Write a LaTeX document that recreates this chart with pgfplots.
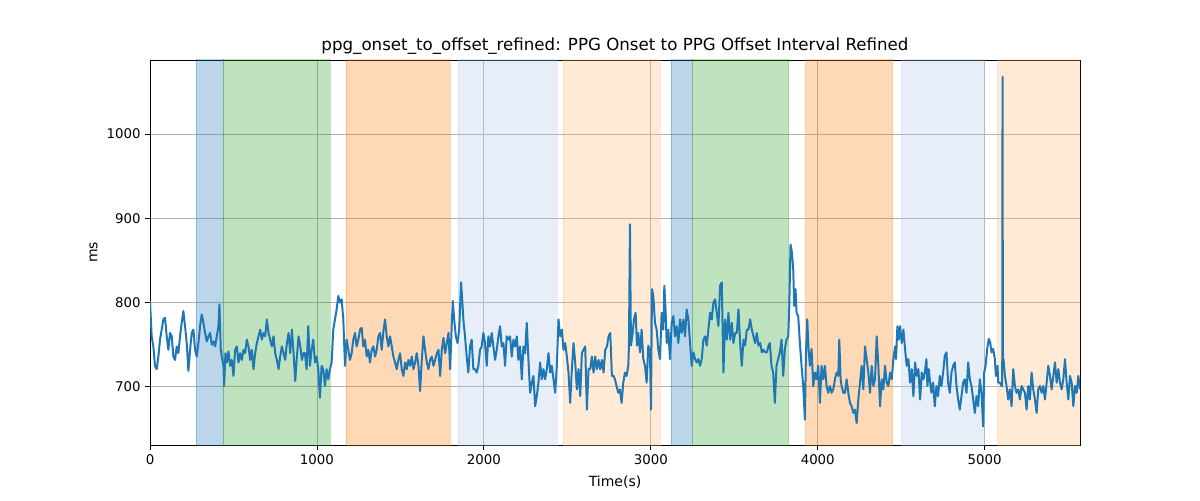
\documentclass[border=0pt]{standalone}
\usepackage{pgfplots}
\pgfplotsset{compat=1.18}
\usepackage{fontspec}
\setmainfont{DejaVu Sans}
\definecolor{mplblue}{HTML}{1F77B4}
\definecolor{mplgreen}{HTML}{2CA02C}
\definecolor{mplorange}{HTML}{FF7F0E}
\definecolor{mpllblue}{HTML}{AEC7E8}
\definecolor{mpllorange}{HTML}{FFBB78}
\begin{document}
\begin{tikzpicture}
\begin{axis}[
  scale only axis,
  width=697.5pt, height=288.75pt,
  xmin=0, xmax=5571, ymin=631, ymax=1088,
  xtick={0,1000,2000,3000,4000,5000},
  ytick={700,800,900,1000},
  grid=major,
  grid style={color=black!30, line width=0.6pt},
  tick align=outside,
  tick pos=left,
  major tick length=3.5pt,
  tick style={black, line width=0.6pt},
  axis line style={black, line width=0.6pt},
  ticklabel style={font=\fontsize{10}{12}\selectfont},
  /pgf/number format/assume math mode=true,
  /pgf/number format/set thousands separator={},
  title={ppg\_onset\_to\_offset\_refined: PPG Onset to PPG Offset Interval Refined},
  title style={font=\fontsize{12.5}{14}\selectfont, yshift=-5.5pt},
  xlabel={Time(s)}, ylabel={ms},
  label style={font=\fontsize{10.5}{12}\selectfont},
  xlabel style={yshift=-1.5pt},
  ylabel style={yshift=0pt},
]
\addplot[fill=mplblue, fill opacity=0.3, draw=mplblue, draw opacity=0.3] coordinates {(275,600) (275,1100) (437,1100) (437,600)} \closedcycle;
\addplot[fill=mplgreen, fill opacity=0.3, draw=mplgreen, draw opacity=0.3] coordinates {(437,600) (437,1100) (1078,1100) (1078,600)} \closedcycle;
\addplot[fill=mplorange, fill opacity=0.3, draw=mplorange, draw opacity=0.3] coordinates {(1174,600) (1174,1100) (1796,1100) (1796,600)} \closedcycle;
\addplot[fill=mpllblue, fill opacity=0.3, draw=mpllblue, draw opacity=0.3] coordinates {(1844,600) (1844,1100) (2437,1100) (2437,600)} \closedcycle;
\addplot[fill=mpllorange, fill opacity=0.3, draw=mpllorange, draw opacity=0.3] coordinates {(2473,600) (2473,1100) (3054,1100) (3054,600)} \closedcycle;
\addplot[fill=mplblue, fill opacity=0.3, draw=mplblue, draw opacity=0.3] coordinates {(3120,600) (3120,1100) (3251,1100) (3251,600)} \closedcycle;
\addplot[fill=mplgreen, fill opacity=0.3, draw=mplgreen, draw opacity=0.3] coordinates {(3251,600) (3251,1100) (3826,1100) (3826,600)} \closedcycle;
\addplot[fill=mplorange, fill opacity=0.3, draw=mplorange, draw opacity=0.3] coordinates {(3928,600) (3928,1100) (4449,1100) (4449,600)} \closedcycle;
\addplot[fill=mpllblue, fill opacity=0.3, draw=mpllblue, draw opacity=0.3] coordinates {(4503,600) (4503,1100) (5000,1100) (5000,600)} \closedcycle;
\addplot[fill=mpllorange, fill opacity=0.3, draw=mpllorange, draw opacity=0.3] coordinates {(5078,600) (5078,1100) (5580,1100) (5580,600)} \closedcycle;
\addplot[color=mplblue, line width=1.5pt, line join=round, mark=none] coordinates {
(0,802) (10,760) (20,748) (30,725) (40,721) (50,736) (60,756) (70,768) (80,780) (90,782) (100,760) (110,744) (120,764) (130,760) (140,736) (150,732) (160,748) (170,740) (180,760) (190,776) (200,790) (210,772) (220,752) (230,719) (240,744) (250,764) (260,768) (270,744) (280,736) (290,752) (300,772) (310,786) (320,776) (330,764) (340,754) (350,760) (360,764) (370,750) (380,754) (390,748) (400,760) (410,772) (416,798) (424,744) (430,736) (440,725) (444,701) (452,740) (460,729) (470,742) (480,725) (490,732) (500,713) (510,744) (520,748) (530,729) (540,740) (550,732) (560,744) (570,740) (580,756) (590,748) (600,732) (610,744) (620,721) (630,740) (640,752) (650,760) (660,768) (670,756) (680,764) (690,760) (700,780) (710,764) (720,756) (730,748) (740,760) (750,740) (760,732) (770,721) (780,736) (790,748) (800,740) (810,732) (820,752) (830,764) (840,740) (850,768) (860,740) (870,707) (880,736) (890,760) (900,748) (910,732) (920,740)
(928,740) (938,721) (948,772) (958,725) (968,744) (978,756) (988,729) (998,736) (1008,721) (1018,687) (1028,725) (1038,721) (1048,701) (1058,721) (1068,709) (1078,721) (1088,729) (1098,768) (1108,780) (1118,792) (1128,808) (1138,800) (1148,804) (1158,780) (1168,725) (1178,756) (1188,744) (1198,732) (1208,740) (1218,756) (1228,764) (1238,748) (1248,756) (1258,768) (1268,770) (1278,748) (1288,756) (1298,736) (1308,744) (1318,729) (1328,744) (1338,748) (1348,736) (1358,744) (1368,760) (1378,764) (1388,744) (1398,766) (1408,780) (1418,760) (1428,748) (1438,760) (1448,748) (1458,736) (1468,729) (1478,721) (1488,732) (1498,740) (1508,721) (1518,713) (1528,729) (1538,721) (1548,732) (1558,725) (1568,736) (1578,721) (1588,729) (1598,740) (1608,725) (1618,695) (1628,732) (1638,760) (1648,744) (1658,729) (1668,721) (1678,732) (1688,736) (1698,725) (1708,732) (1718,740) (1728,744) (1738,713) (1748,744) (1758,758) (1768,740) (1778,752) (1788,764) (1798,721) (1808,776) (1814,802) (1822,780) (1832,760) (1842,752) (1852,768)
(1857,792) (1863,824) (1869,808) (1877,780) (1887,760) (1897,736) (1907,717) (1917,748) (1927,756) (1937,721) (1947,721) (1957,717) (1967,725) (1977,744) (1987,748) (1997,764) (2007,752) (2017,725) (2027,760) (2037,748) (2047,764) (2057,748) (2067,732) (2077,744) (2087,760) (2097,772) (2107,748) (2117,752) (2127,725) (2137,760) (2147,756) (2157,760) (2167,736) (2177,756) (2187,748) (2197,760) (2207,732) (2217,748) (2227,709) (2237,748) (2247,740) (2257,776) (2267,732) (2277,693) (2287,705) (2297,713) (2307,677) (2317,689) (2327,705) (2337,729) (2347,709) (2357,721) (2367,709) (2377,721) (2387,740) (2397,717) (2407,725) (2417,709) (2427,693) (2437,725) (2447,780) (2457,760) (2467,768) (2477,744) (2487,752) (2497,736) (2507,717) (2517,681) (2527,721) (2537,752) (2547,729) (2557,697) (2567,721) (2577,689) (2587,740) (2597,744) (2607,748) (2617,673) (2627,721) (2637,721) (2647,736) (2657,717) (2667,736) (2677,721) (2687,732) (2697,721) (2707,732) (2717,717) (2727,744) (2737,748) (2747,760) (2757,764) (2767,713) (2777,713)
(2785,709) (2795,701) (2805,693) (2815,697) (2825,681) (2835,705) (2845,717) (2855,713) (2865,725) (2869,749) (2875,893) (2881,749) (2889,760) (2899,780) (2909,788) (2917,749) (2925,764) (2935,741) (2945,768) (2955,733) (2965,725) (2975,705) (2985,749) (2995,741) (3001,673) (3007,816) (3015,808) (3025,776) (3035,768) (3045,744) (3055,733) (3065,788) (3075,768) (3081,820) (3089,788) (3095,752) (3105,768) (3115,733) (3125,776) (3135,784) (3145,760) (3155,772) (3165,752) (3175,780) (3185,764) (3195,780) (3205,760) (3215,792) (3225,780) (3235,752) (3245,725) (3255,741) (3265,733) (3275,729) (3285,733) (3295,725) (3305,733) (3315,756) (3325,760) (3335,749) (3345,768) (3355,788) (3365,780) (3375,800) (3385,804) (3395,788) (3405,772) (3415,820) (3425,824) (3435,717) (3445,780) (3455,756) (3465,788) (3475,756) (3485,776) (3495,752) (3505,764) (3515,764) (3525,792) (3535,752) (3545,725) (3555,756) (3565,749) (3575,768) (3585,768) (3595,780) (3605,768) (3615,760) (3625,752) (3635,764) (3645,749) (3655,752) (3665,741) (3675,744) (3685,741) (3695,741) (3705,749)
(3713,752) (3723,725) (3733,717) (3743,681) (3753,725) (3763,733) (3773,741) (3783,756) (3793,713) (3803,745) (3813,756) (3823,760) (3829,792) (3837,869) (3845,860) (3853,840) (3859,796) (3867,816) (3873,788) (3883,784) (3893,752) (3903,725) (3913,701) (3923,661) (3929,737) (3937,780) (3945,745) (3953,725) (3963,745) (3973,701) (3983,717) (3993,709) (4003,725) (4013,681) (4023,725) (4033,709) (4043,725) (4053,701) (4063,693) (4073,701) (4083,693) (4093,697) (4103,709) (4113,717) (4123,713) (4129,756) (4137,709) (4143,701) (4153,693) (4163,693) (4173,709) (4183,693) (4193,681) (4203,677) (4213,669) (4223,673) (4233,657) (4243,685) (4253,705) (4263,725) (4273,697) (4283,748) (4293,733) (4303,717) (4313,693) (4323,725) (4333,701) (4343,709) (4353,760) (4363,725) (4373,677) (4383,709) (4393,697) (4403,725) (4413,705) (4423,701) (4433,717) (4443,709) (4453,733) (4463,748) (4469,733) (4477,772) (4485,756) (4493,772) (4503,752) (4513,768) (4523,745) (4533,725) (4543,733) (4553,705) (4563,721) (4573,689) (4583,729) (4593,713) (4603,721) (4613,685) (4623,717) (4633,709)
(4641,717) (4651,733) (4657,701) (4665,721) (4671,709) (4681,693) (4691,705) (4701,677) (4711,701) (4721,689) (4731,713) (4741,701) (4751,717) (4761,737) (4771,741) (4781,705) (4791,693) (4801,717) (4811,725) (4821,729) (4831,701) (4841,685) (4851,673) (4861,689) (4871,705) (4881,709) (4891,693) (4901,729) (4911,709) (4921,701) (4931,685) (4941,669) (4951,689) (4961,677) (4971,709) (4981,693) (4991,653) (4997,717) (5005,725) (5015,745) (5025,757) (5033,753) (5041,741) (5051,745) (5061,733) (5067,713) (5077,725) (5081,705) (5091,705) (5101,701) (5105,701) (5107,1068) (5109,733) (5113,733) (5121,713) (5131,701) (5141,685) (5151,697) (5161,677) (5171,721) (5181,701) (5191,693) (5201,697) (5211,685) (5221,701) (5231,697) (5241,693) (5251,673) (5261,701) (5271,685) (5281,717) (5291,697) (5301,685) (5311,669) (5321,697) (5331,701) (5341,693) (5351,701) (5361,685) (5371,705) (5381,725) (5391,713) (5401,697) (5411,713) (5421,729) (5431,705) (5441,721) (5451,705) (5461,697) (5471,709) (5481,733) (5491,705) (5501,685) (5511,713) (5521,705) (5531,677) (5541,701) (5551,693) (5561,713) (5571,697)
};
\end{axis}
\path ([xshift=-112.5pt,yshift=-41.25pt]current axis.south west) rectangle ([xshift=90pt,yshift=45pt]current axis.north east);
\end{tikzpicture}
\end{document}
